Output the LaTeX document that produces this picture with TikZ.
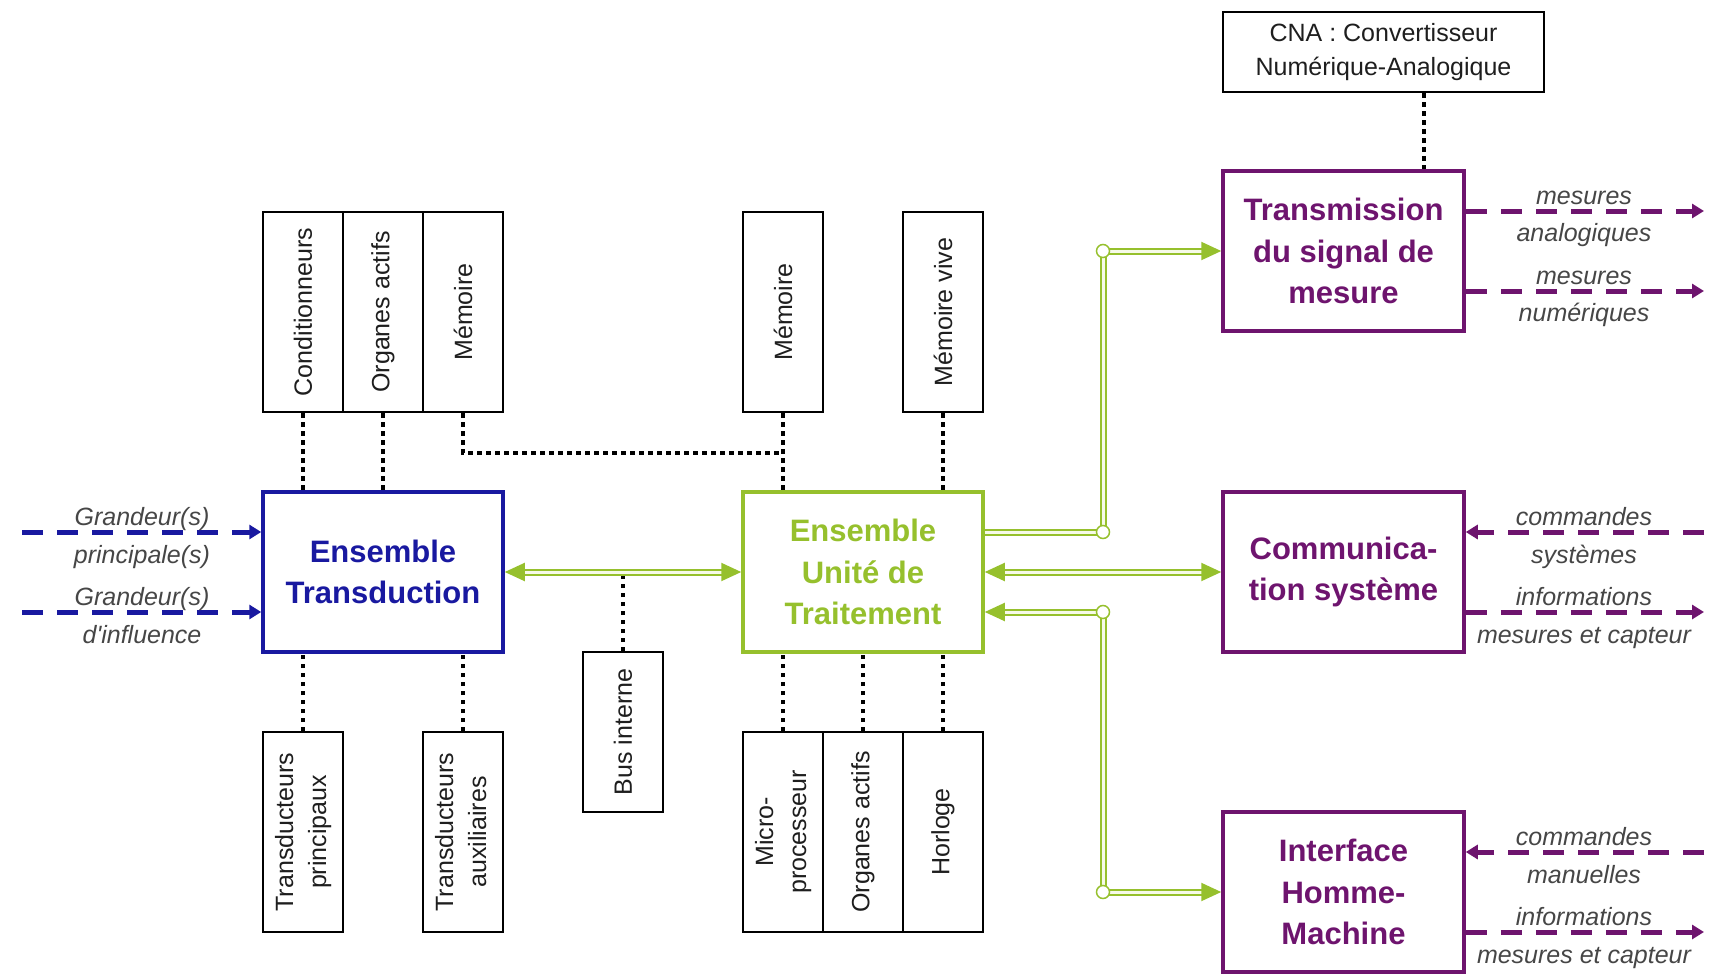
\documentclass[tikz,border=0pt]{standalone}
\usepackage{fontspec}
\setmainfont{Liberation Sans}
\usetikzlibrary{arrows.meta}
\definecolor{gr}{RGB}{150,192,45}
\definecolor{gin}{RGB}{246,250,232}
\definecolor{bl}{RGB}{25,25,160}
\definecolor{pu}{RGB}{110,20,110}
\definecolor{lab}{RGB}{70,70,70}
\definecolor{ink}{RGB}{30,30,30}
\begin{document}
\begin{tikzpicture}[x=1pt,y=-1pt,
  sbox/.style={draw=black, line width=2pt, minimum width=80pt, minimum height=200pt, inner sep=0pt, font=\fontsize{25}{33}\selectfont, text=ink},
  bigbox/.style={line width=3.5pt, minimum width=240pt, minimum height=160pt, inner sep=0pt, align=center, font=\fontsize{31}{41.5}\selectfont\bfseries},
  dotl/.style={line width=4.5pt, dash pattern=on 4.5pt off 4.5pt, black},
  gdbl/.style={draw=gr, line width=2pt, double=gin, double distance=3pt, line join=miter},
  gtip/.style={-{Triangle[length=20pt,width=18pt]}},
  gtips/.style={{Triangle[length=20pt,width=18pt]}-{Triangle[length=20pt,width=18pt]}},
  gcirc/.style={circle, draw=gr, fill=white, line width=1.5pt, minimum size=13pt, inner sep=0pt},
  bdash/.style={draw=bl, line width=5pt, dash pattern=on 21pt off 14pt, -{Triangle[length=12pt,width=14pt]}},
  pdash/.style={draw=pu, line width=5pt, dash pattern=on 21pt off 14pt, -{Triangle[length=12pt,width=14pt]}},
  lbl/.style={font=\fontsize{25}{30}\selectfont\itshape, text=lab, inner sep=0pt, anchor=base},
]
\useasboundingbox (0,0) rectangle (1716,977);

% main boxes
\node[bigbox, draw=bl, text=bl] (trd) at (383,572) {Ensemble\\Transduction};
\node[bigbox, draw=gr, text=gr] (ut) at (863,572) {Ensemble\\Unité de\\Traitement};
\node[bigbox, draw=pu, text=pu, minimum width=241pt] (tsm) at (1343.5,251) {Transmission\\du signal de\\mesure};
\node[bigbox, draw=pu, text=pu, minimum width=241pt] (com) at (1343.5,572) {Communica-\\tion système};
\node[bigbox, draw=pu, text=pu, minimum width=241pt] (ihm) at (1343.5,892) {Interface\\Homme-\\Machine};
\node[draw=black, line width=2pt, minimum width=321pt, minimum height=80pt, inner sep=0pt, align=center, font=\fontsize{25}{34}\selectfont, text=ink] (cna) at (1383.5,52) {CNA : Convertisseur\\Numérique-Analogique};

% top small boxes
\node[sbox] (cond) at (303,312) {\rotatebox{90}{Conditionneurs}};
\node[sbox] (orgA) at (383,312) {\rotatebox{90}{Organes actifs}};
\node[sbox] (memA) at (463,312) {\rotatebox{90}{Mémoire}};
\node[sbox] (memB) at (783,312) {\rotatebox{90}{Mémoire}};
\node[sbox] (memV) at (943,312) {\rotatebox{90}{Mémoire vive}};

% bottom small boxes
\node[sbox] (trP) at (303,832) {\rotatebox{90}{\begin{tabular}{@{}c@{}}Transducteurs\\principaux\end{tabular}}};
\node[sbox] (trA) at (463,832) {\rotatebox{90}{\begin{tabular}{@{}c@{}}Transducteurs\\auxiliaires\end{tabular}}};
\node[sbox, minimum height=160pt] (bus) at (623,732) {\rotatebox{90}{Bus interne}};
\node[sbox] (mic) at (783,832) {\rotatebox{90}{\begin{tabular}{@{}c@{}}Micro-\\processeur\end{tabular}}};
\node[sbox] (orgB) at (863,832) {\rotatebox{90}{Organes actifs}};
\node[sbox] (hor) at (943,832) {\rotatebox{90}{Horloge}};

% dotted links
\draw[dotl] (cond.south) -- (cond.south |- trd.north);
\draw[dotl] (orgA.south) -- (orgA.south |- trd.north);
\path (memB.south) ++(0,40) coordinate (mj);
\draw[dotl] (memA.south) |- (mj);
\draw[dotl] (memB.south) -- (memB.south |- ut.north);
\draw[dotl] (memV.south) -- (memV.south |- ut.north);
\draw[dotl] (trP.north) -- (trP.north |- trd.south);
\draw[dotl] (trA.north) -- (trA.north |- trd.south);
\draw[dotl] (mic.north) -- (mic.north |- ut.south);
\draw[dotl] (orgB.north) -- (orgB.north |- ut.south);
\draw[dotl] (hor.north) -- (hor.north |- ut.south);
\draw[dotl] ([xshift=40.5pt]cna.south) -- ([xshift=40.5pt]cna.south |- tsm.north);
\draw[dotl] (bus.north) -- (bus.north |- trd.east);

% green buses
\draw[gdbl, gtips] (trd.east) -- (ut.west);
\draw[gdbl, gtips] (ut.east) -- (com.west);
\coordinate (c1) at (1103,532);
\coordinate (c2) at (1103,251);
\coordinate (c3) at (1103,612);
\coordinate (c4) at (1103,892);
\draw[gdbl, gtip] ([yshift=40pt]ut.east) -- (c1) -- (c2) -- (tsm.west);
\draw[gdbl, gtips] ([yshift=-40pt]ut.east) -- (c3) -- (c4) -- (ihm.west);
\node[gcirc] (k1) at (c1) {};
\node[gcirc] (k2) at (c2) {};
\node[gcirc] (k3) at (c3) {};
\node[gcirc] (k4) at (c4) {};

% blue inputs
\coordinate (b1) at (22,532);
\coordinate (b2) at (22,612);
\draw[bdash] (b1) -- ([yshift=40pt]trd.west);
\draw[bdash] (b2) -- ([yshift=-40pt]trd.west);
\node[lbl] (g1) at (142,525) {Grandeur(s)};
\node[lbl] (g2) at (142,563) {principale(s)};
\node[lbl] (g3) at (142,605) {Grandeur(s)};
\node[lbl] (g4) at (142,643) {d\textquotesingle influence};

% purple outputs
\coordinate (p1) at (1704,211);
\coordinate (p2) at (1704,291);
\coordinate (p3) at (1704,532);
\coordinate (p4) at (1704,612);
\coordinate (p5) at (1704,852);
\coordinate (p6) at (1704,932);
\draw[pdash] ([yshift=40pt]tsm.east) -- (p1);
\draw[pdash] ([yshift=-40pt]tsm.east) -- (p2);
\draw[pdash] (p3) -- ([yshift=40pt]com.east);
\draw[pdash] ([yshift=-40pt]com.east) -- (p4);
\draw[pdash] (p5) -- ([yshift=40pt]ihm.east);
\draw[pdash] ([yshift=-40pt]ihm.east) -- (p6);
\node[lbl] (m1) at (1584,204) {mesures};
\node[lbl] (m2) at (1584,241) {analogiques};
\node[lbl] (m3) at (1584,284) {mesures};
\node[lbl] (m4) at (1584,321) {numériques};
\node[lbl] (m5) at (1584,525) {commandes};
\node[lbl] (m6) at (1584,563) {systèmes};
\node[lbl] (m7) at (1584,605) {informations};
\node[lbl] (m8) at (1584,643) {mesures et capteur};
\node[lbl] (m9) at (1584,845) {commandes};
\node[lbl] (m10) at (1584,883) {manuelles};
\node[lbl] (m11) at (1584,925) {informations};
\node[lbl] (m12) at (1584,963) {mesures et capteur};
\end{tikzpicture}
\end{document}
